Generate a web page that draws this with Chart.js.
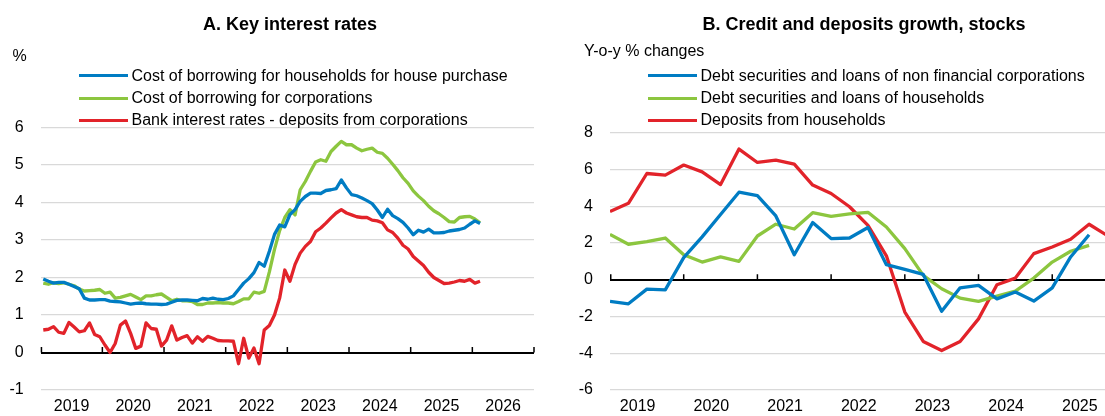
<!DOCTYPE html>
<html>
<head>
  <meta charset="utf-8">
  <title>Key interest rates | Credit and deposits growth</title>
  <script src="https://cdn.jsdelivr.net/npm/chart.js"></script>
  <style>
    html, body { margin: 0; padding: 0; background: #fff; }
    body { font-family: "Liberation Sans", Arial, sans-serif; color: #000; }
    #page { position: relative; width: 1105px; height: 416px; overflow: hidden; }
    canvas { position: absolute; top: 0; }
    .title { position: absolute; top: 14.8px; width: 500px; text-align: center; font-size: 18px; font-weight: bold; line-height: 18px; white-space: nowrap; }
    .unit { position: absolute; font-size: 16px; line-height: 16px; white-space: nowrap; }
    .legend { position: absolute; top: 64.6px; font-size: 16px; }
    .key { display: flex; align-items: center; height: 22.3px; white-space: nowrap; }
    .swatch { width: 49px; height: 3px; margin-right: 4px; flex: none; }
  </style>
</head>
<body>
  <div id="page">
    <canvas id="rates" width="545" height="416" style="left:0"></canvas>
    <canvas id="credit" width="545" height="416" style="left:560px"></canvas>
    <div class="title" style="left:40px">A. Key interest rates</div>
    <div class="title" style="left:614px">B. Credit and deposits growth, stocks</div>
    <div class="unit" style="left:12.5px; top:48px">%</div>
    <div class="unit" style="left:584px; top:43px">Y-o-y % changes</div>
    <div class="legend" id="ratesLegend" style="left:78.5px"></div>
    <div class="legend" id="creditLegend" style="left:647.5px"></div>
  </div>
  <script>
    const BLUE = '#007CC3';
    const GREEN = '#8CC63F';
    const RED = '#E2232A';

    const yearLabels = ['2019', '2020', '2021', '2022', '2023', '2024', '2025', '2026'];

    // monthly periods, Jan 2019 - Feb 2026
    const months = [];
    for (let y = 2019; y <= 2026; y++) {
      for (let m = 1; m <= 12; m++) months.push(y + '-' + String(m).padStart(2, '0'));
    }
    months.length = 86;

    // quarterly periods, 2019Q1 - 2025Q4
    const quarters = [];
    for (let y = 2019; y <= 2025; y++) {
      for (let q = 1; q <= 4; q++) quarters.push(y + 'Q' + q);
    }

    // Panel A, %
    const houseLoanRate = [
      1.96, 1.90, 1.85, 1.87, 1.87, 1.82, 1.76, 1.70, 1.45, 1.40, 1.40, 1.41,
      1.41, 1.37, 1.36, 1.35, 1.32, 1.29, 1.31, 1.32, 1.30, 1.29, 1.29, 1.28,
      1.29, 1.34, 1.39, 1.40, 1.40, 1.39, 1.38, 1.44, 1.42, 1.45, 1.42, 1.41,
      1.44, 1.51, 1.68, 1.85, 1.97, 2.13, 2.40, 2.30, 2.70, 3.15, 3.40, 3.35,
      3.68, 3.81, 4.03, 4.16, 4.25, 4.25, 4.24, 4.32, 4.34, 4.37, 4.60, 4.39,
      4.21, 4.18, 4.12, 4.05, 3.97, 3.80, 3.60, 3.82, 3.65, 3.57, 3.47, 3.32,
      3.14, 3.26, 3.21, 3.29, 3.19, 3.19, 3.20, 3.24, 3.26, 3.28, 3.32, 3.42,
      3.51, 3.44
    ];
    const corporateLoanRate = [
      1.85, 1.82, 1.86, 1.84, 1.86, 1.82, 1.78, 1.69, 1.64, 1.65, 1.66, 1.68,
      1.58, 1.61, 1.45, 1.47, 1.51, 1.55, 1.48, 1.41, 1.51, 1.51, 1.54, 1.56,
      1.47, 1.38, 1.42, 1.38, 1.38, 1.36, 1.28, 1.28, 1.32, 1.32, 1.33, 1.32,
      1.32, 1.30, 1.36, 1.43, 1.43, 1.61, 1.58, 1.63, 2.15, 2.75, 3.25, 3.60,
      3.81, 3.67, 4.34, 4.56, 4.83, 5.08, 5.14, 5.10, 5.36, 5.50, 5.63, 5.54,
      5.54, 5.45, 5.38, 5.42, 5.45, 5.34, 5.31, 5.18, 5.02, 4.85, 4.66, 4.51,
      4.31, 4.17, 4.05, 3.90, 3.78, 3.70, 3.60, 3.49, 3.48, 3.60, 3.62, 3.63,
      3.56, 3.46
    ];
    const corporateDepositRate = [
      0.60, 0.62, 0.69, 0.54, 0.51, 0.80, 0.68, 0.55, 0.58, 0.79, 0.48, 0.42,
      0.20, 0.00, 0.24, 0.73, 0.84, 0.51, 0.11, 0.17, 0.79, 0.64, 0.62, 0.17,
      0.33, 0.71, 0.33, 0.40, 0.45, 0.25, 0.42, 0.30, 0.43, 0.38, 0.32, 0.31,
      0.31, 0.30, -0.30, 0.38, -0.15, 0.12, -0.30, 0.60, 0.72, 1.00, 1.45, 2.20,
      1.90, 2.35, 2.65, 2.83, 2.96, 3.22, 3.32, 3.45, 3.59, 3.72, 3.81, 3.72,
      3.67, 3.62, 3.60, 3.60, 3.53, 3.51, 3.46, 3.27, 3.20, 3.05, 2.86, 2.76,
      2.56, 2.44, 2.32, 2.14, 2.00, 1.92, 1.84, 1.85, 1.88, 1.92, 1.90, 1.95,
      1.85, 1.90
    ];

    // Panel B, y-o-y % changes
    const firmCredit = [
      -1.18, -1.31, -0.51, -0.55, 1.20, 2.33, 3.55, 4.76, 4.58, 3.47, 1.36, 3.11,
      2.24, 2.27, 2.84, 0.82, 0.56, 0.29, -1.71, -0.44, -0.31, -1.04, -0.67, -1.16,
      -0.44, 1.24, 2.45
    ];
    const householdCredit = [
      2.47, 1.93, 2.07, 2.27, 1.36, 0.96, 1.24, 1.00, 2.38, 3.02, 2.76, 3.65,
      3.45, 3.58, 3.67, 2.87, 1.69, 0.24, -0.49, -1.00, -1.18, -0.89, -0.62, 0.09,
      0.96, 1.55, 1.87
    ];
    const householdDeposits = [
      3.71, 4.16, 5.78, 5.69, 6.24, 5.87, 5.18, 7.11, 6.38, 6.51, 6.29, 5.15,
      4.69, 3.97, 2.96, 1.30, -1.76, -3.36, -3.85, -3.36, -2.13, -0.27, 0.09, 1.42,
      1.78, 2.20, 3.02, 2.40
    ];

    // monthly points sit mid-month, quarterly points at the start of the quarter
    const monthPos = s => Number(s.slice(0, 4)) + (Number(s.slice(5)) - 0.5) / 12;
    const quarterPos = s => Number(s.slice(0, 4)) + (Number(s.slice(5)) - 1) / 4;

    const series = (periods, pos, values) => values.map((v, i) => ({ x: pos(periods[i]), y: v }));

    Chart.defaults.font.family = "'Liberation Sans', Arial, sans-serif";
    Chart.defaults.font.size = 16;
    Chart.defaults.color = '#000';

    // black zero line carries short year ticks pointing up
    const yearTicks = {
      id: 'yearTicks',
      beforeDatasetsDraw(chart) {
        const xs = chart.scales.x, ys = chart.scales.y, ctx = chart.ctx;
        const y0 = ys.getPixelForValue(0);
        ctx.save();
        ctx.strokeStyle = '#000';
        ctx.lineWidth = 1.5;
        ctx.beginPath();
        for (let yr = Math.ceil(xs.min); yr <= xs.max; yr++) {
          const px = Math.max(xs.getPixelForValue(yr), chart.chartArea.left + 0.75);
          ctx.moveTo(px, y0);
          ctx.lineTo(px, y0 - 5.5);
        }
        ctx.stroke();
        ctx.restore();
      }
    };

    function panelOptions(p) {
      return {
        responsive: false,
        animation: false,
        layout: { padding: { top: p.top, right: p.right, bottom: 0, left: 0 } },
        plugins: { legend: { display: false }, tooltip: { enabled: false } },
        elements: {
          point: { radius: 0 },
          line: { borderWidth: 3.3, tension: 0, borderJoinStyle: 'round' }
        },
        scales: {
          x: {
            type: 'linear',
            min: 2019,
            max: p.xMax,
            afterBuildTicks: s => {
              s.ticks = yearLabels
                .map(y => ({ value: Number(y) + p.labelShift }))
                .filter(t => t.value <= p.xMax);
            },
            afterFit: s => { s.height = 26; s.paddingLeft = 0; s.paddingRight = 0; },
            ticks: { autoSkip: false, maxRotation: 0, padding: 7, callback: v => String(Math.floor(v)) },
            grid: { display: false, drawTicks: false },
            border: { display: false }
          },
          y: {
            min: p.yMin,
            max: p.yMax,
            afterFit: s => { s.width = p.yWidth; s.paddingTop = 0; s.paddingBottom = 0; },
            ticks: { stepSize: p.yStep, padding: 17 },
            grid: {
              drawTicks: false,
              color: c => c.tick.value === 0 ? '#000' : '#d9d9d9',
              lineWidth: c => c.tick.value === 0 ? 2 : 1.3
            },
            border: { display: false }
          }
        }
      };
    }

    function fillLegend(chart, id) {
      const box = document.getElementById(id);
      chart.data.datasets.forEach(ds => {
        const row = document.createElement('div');
        row.className = 'key';
        const sw = document.createElement('span');
        sw.className = 'swatch';
        sw.style.background = ds.borderColor;
        row.appendChild(sw);
        row.appendChild(document.createTextNode(ds.label));
        box.appendChild(row);
      });
    }

    const ratesChart = new Chart(document.getElementById('rates'), {
      type: 'line',
      data: {
        datasets: [
          { label: 'Cost of borrowing for households for house purchase', data: series(months, monthPos, houseLoanRate), borderColor: BLUE },
          { label: 'Cost of borrowing for corporations', data: series(months, monthPos, corporateLoanRate), borderColor: GREEN },
          { label: 'Bank interest rates - deposits from corporations', data: series(months, monthPos, corporateDepositRate), borderColor: RED }
        ]
      },
      // labels sit under the middle of each year's monthly points
      options: panelOptions({ top: 127.5, right: 11, yWidth: 40.7, yMin: -1, yMax: 6, yStep: 1, xMax: 2027, labelShift: 0.5 }),
      plugins: [yearTicks]
    });

    const creditChart = new Chart(document.getElementById('credit'), {
      type: 'line',
      data: {
        datasets: [
          { label: 'Debt securities and loans of non financial corporations', data: series(quarters, quarterPos, firmCredit), borderColor: BLUE },
          { label: 'Debt securities and loans of households', data: series(quarters, quarterPos, householdCredit), borderColor: GREEN },
          { label: 'Deposits from households', data: series(quarters, quarterPos, householdDeposits), borderColor: RED }
        ]
      },
      // quarterly points: labels under the middle of Q1..Q4
      options: panelOptions({ top: 132.7, right: 0, yWidth: 50, yMin: -6, yMax: 8, yStep: 2, xMax: 2025.716, labelShift: 0.375 }),
      plugins: [yearTicks]
    });

    fillLegend(ratesChart, 'ratesLegend');
    fillLegend(creditChart, 'creditLegend');
  </script>
</body>
</html>
